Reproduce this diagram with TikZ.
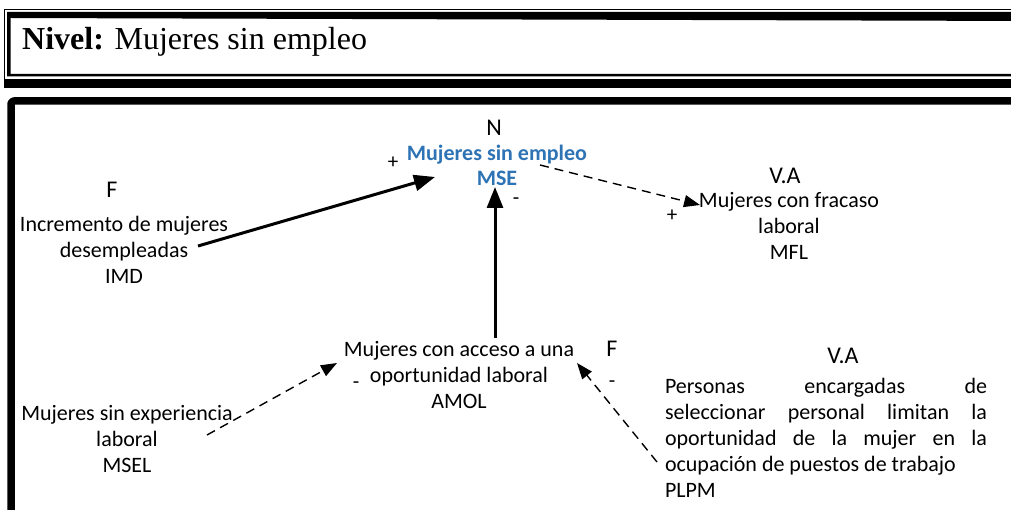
\documentclass[tikz,border=0pt]{standalone}
\usepackage{fontspec}
\setmainfont{Liberation Serif}
\newfontfamily\calibri{Carlito}
\usetikzlibrary{arrows.meta,positioning}
\definecolor{azul}{RGB}{46,116,181}

\begin{document}
\begin{tikzpicture}[x=1pt,y=-1pt,
  txt/.style={font=\calibri\fontsize{22}{26}\selectfont,align=center,inner sep=0pt},
  etiq/.style={font=\calibri\fontsize{24}{28}\selectfont,inner sep=0pt},
  signo/.style={font=\calibri\fontsize{21}{21}\selectfont,inner sep=0pt},
  fuerte/.style={-{Triangle[length=21pt,width=16pt]},line width=3pt},
  punteada/.style={-{Triangle[length=16pt,width=12pt]},line width=1.4pt,dash pattern=on 9pt off 6pt}]
\useasboundingbox (0,0) rectangle (1011,510);
\clip (0,0) rectangle (1011,510);
% marco del titulo
\draw[line width=1.5pt] (4.5,80) -- (4.5,9.75) -- (1030,9.75);
\fill (7,12) -- (1030,12) -- (1030,21) -- (10.5,18) -- (10.5,74) -- (1030,74) -- (1030,76.5) -- (7,76.5) -- cycle;
\fill (3.75,79) rectangle (1030,88);
\node[anchor=base west,font=\fontsize{32}{36}\selectfont,inner sep=0pt] (nivel) at (22,50) {\textbf{Nivel:} Mujeres sin empleo};
% marco del diagrama
\draw[line width=7.5pt,line join=round,rounded corners=3pt] (11,530) -- (11,101) -- (1030,101);

\node[etiq] (n) at (494,128) {N};
\node[txt,text=azul,font=\calibri\bfseries\fontsize{22}{25}\selectfont] (mse) at (497,165) {Mujeres sin empleo\\MSE};
\node[etiq] (f1) at (112,190) {F};
\node[txt] (imd) at (124,250) {Incremento de mujeres\\desempleadas\\IMD};
\node[etiq] (va1) at (785,176) {V.A};
\node[txt] (mfl) at (789,226) {Mujeres con fracaso\\laboral\\MFL};
\node[txt] (amol) at (459,375) {Mujeres con acceso a una\\oportunidad laboral\\AMOL};
\node[etiq] (f2) at (612,349) {F};
\node[txt] (msel) at (127,439) {Mujeres sin experiencia\\laboral\\MSEL};
\node[etiq] (va2) at (843,356) {V.A};
\node[txt,text width=322pt,align=justify] (plpm) at (826,438) {Personas encargadas de\linebreak seleccionar personal limitan la\linebreak oportunidad de la mujer en la\linebreak ocupación de puestos de trabajo\\PLPM};

% signos
\node[signo] (p1) at (393,163) {+};
\node[signo] (m1) at (516,201) {-};
\node[signo] (p2) at (672,216) {+};
\node[signo] (m2) at (356,385) {-};
\node[signo] (m3) at (612,384) {-};

\path
  ([shift={(74,-4)}]imd.center) edge[fuerte] ([shift={(-62,12)}]mse.center)
  ([shift={(36,-37)}]amol.center) edge[fuerte] ([shift={(-2,22)}]mse.center)
  ([shift={(43,0)}]mse.center) edge[punteada] ([shift={(-89,-21)}]mfl.center)
  ([shift={(80,-4)}]msel.center) edge[punteada] ([shift={(-122,-12)}]amol.center)
  ([shift={(-169,24)}]plpm.center) edge[punteada] ([shift={(118,-12)}]amol.center);
\end{tikzpicture}
\end{document}
